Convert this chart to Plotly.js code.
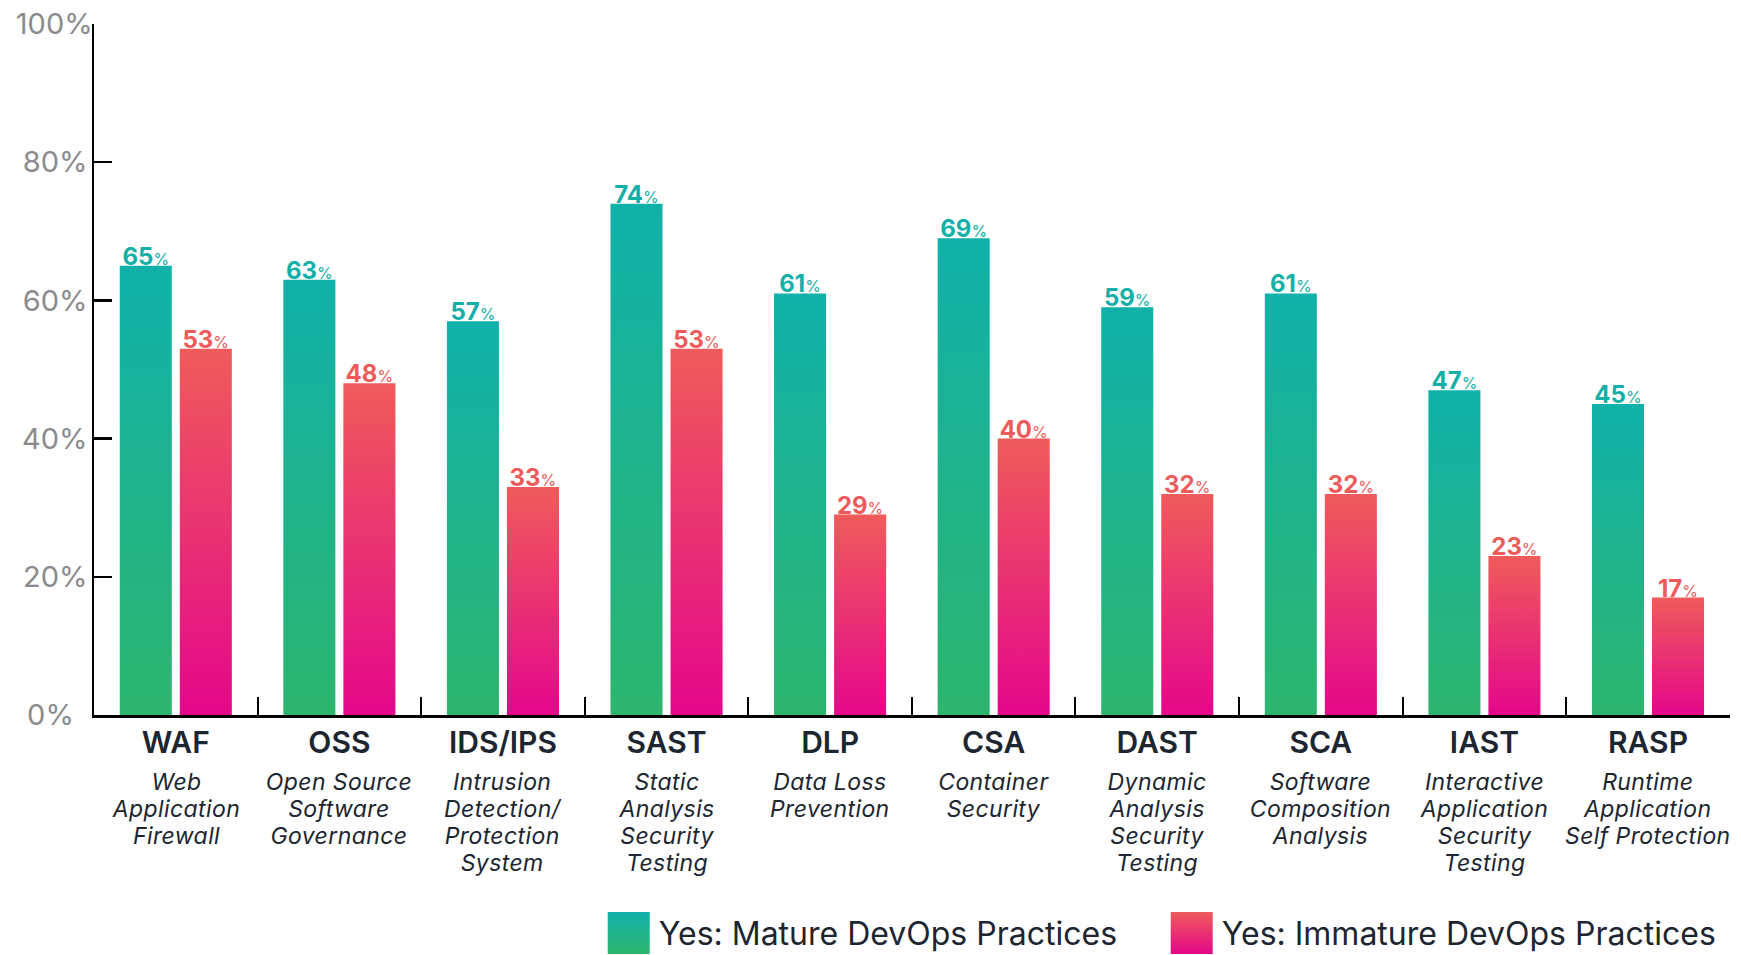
<!DOCTYPE html>
<html>
<head>
<meta charset="utf-8">
<script src="https://cdn.plot.ly/plotly-3.0.1.min.js"></script>
<style>
  html, body { margin: 0; padding: 0; background: #ffffff; }
  #chart { width: 1741px; height: 955px; }
  #chart .annotation-text { letter-spacing: 0.4px; }
</style>
</head>
<body>
<div id="chart"></div>
<script>
// ---- data ----
const categories = ['WAF', 'OSS', 'IDS/IPS', 'SAST', 'DLP', 'CSA', 'DAST', 'SCA', 'IAST', 'RASP'];
const descriptions = [
  'Web<br>Application<br>Firewall',
  'Open Source<br>Software<br>Governance',
  'Intrusion<br>Detection/<br>Protection<br>System',
  'Static<br>Analysis<br>Security<br>Testing',
  'Data Loss<br>Prevention',
  'Container<br>Security',
  'Dynamic<br>Analysis<br>Security<br>Testing',
  'Software<br>Composition<br>Analysis',
  'Interactive<br>Application<br>Security<br>Testing',
  'Runtime<br>Application<br>Self Protection'
];
const matureValues = [65, 63, 57, 74, 61, 69, 59, 61, 47, 45];
const immatureValues = [53, 48, 33, 53, 29, 40, 32, 32, 23, 17];
const seriesNames = ['Yes: Mature DevOps Practices', 'Yes: Immature DevOps Practices'];
const yTickValues = [0, 20, 40, 60, 80, 100];
const yTickLabels = ['0%\u2007', '20%\u2009', '40%\u2009', '60%\u2009', '80%\u2009', '100%'];

// ---- styles ----
const FONT = 'Inter, "Open Sans", sans-serif';
const DARK = '#1c2530';
const TEAL_LABEL = '#13b0a8';
const RED_LABEL = '#ee5a5a';
const gradients = [
  { id: 'gradMature', top: '#10b1aa', bottom: '#2db56e' },
  { id: 'gradImmature', top: '#ef5b5a', bottom: '#e5078b' }
];

function pctLabel(v) {
  return v + '<span style="font-size:16px;font-weight:400">%</span>';
}

const traceMature = {
  type: 'bar',
  name: seriesNames[0],
  x: categories,
  y: matureValues,
  text: matureValues.map(pctLabel),
  marker: { color: '#12b1a6' },
  textposition: 'outside',
  cliponaxis: false,
  textfont: { family: FONT, size: 24, weight: 700, color: TEAL_LABEL },
  hoverinfo: 'skip'
};
const traceImmature = {
  type: 'bar',
  name: seriesNames[1],
  x: categories,
  y: immatureValues,
  text: immatureValues.map(pctLabel),
  marker: { color: '#ea4a6a' },
  textposition: 'outside',
  cliponaxis: false,
  textfont: { family: FONT, size: 24, weight: 700, color: RED_LABEL },
  hoverinfo: 'skip'
};

const annotations = categories.map((c, i) => ({
  x: c,
  xref: 'x',
  y: -0.074,
  yref: 'paper',
  yanchor: 'top',
  xanchor: 'center',
  align: 'center',
  showarrow: false,
  text: descriptions[i],
  font: { family: FONT, size: 23, style: 'italic', color: DARK }
}));

const layout = {
  width: 1741,
  height: 955,
  margin: { l: 94, r: 11, t: 24, b: 240, autoexpand: false },
  paper_bgcolor: '#ffffff',
  plot_bgcolor: '#ffffff',
  barmode: 'group',
  bargap: 0.266,
  bargroupgap: 0.133,
  showlegend: true,
  legend: {
    orientation: 'h',
    x: 0.3085,
    xanchor: 'left',
    y: -0.3157,
    yanchor: 'middle',
    font: { family: FONT, size: 32, color: DARK },
    itemwidth: 50,
    entrywidth: 498,
    entrywidthmode: 'pixels',
    bgcolor: 'rgba(0,0,0,0)',
    itemclick: false,
    itemdoubleclick: false
  },
  xaxis: {
    type: 'category',
    showline: true,
    linecolor: '#000000',
    linewidth: 2.5,
    ticks: 'inside',
    tickson: 'boundaries',
    ticklen: 18,
    tickwidth: 2,
    tickcolor: '#000000',
    ticklabelstandoff: -1,
    tickfont: { family: FONT, size: 30, weight: 600, color: DARK },
    showgrid: false,
    zeroline: false,
    fixedrange: true
  },
  yaxis: {
    range: [0, 100],
    tickvals: yTickValues,
    ticktext: yTickLabels,
    showline: true,
    linecolor: '#000000',
    linewidth: 2.5,
    ticks: 'inside',
    ticklen: 18,
    tickwidth: 2.5,
    tickcolor: '#000000',
    ticklabelstandoff: -7,
    tickfont: { family: FONT, size: 29, color: '#8a8a8c' },
    showgrid: false,
    zeroline: false,
    fixedrange: true
  },
  annotations: annotations
};

const gd = document.getElementById('chart');
Plotly.newPlot(gd, [traceMature, traceImmature], layout, { displayModeBar: false, staticPlot: true })
  .then(applyStyling);

function applyStyling() {
  const ns = 'http://www.w3.org/2000/svg';
  const svg = gd.querySelector('svg.main-svg');
  let defs = svg.querySelector('defs');
  if (!defs) { defs = document.createElementNS(ns, 'defs'); svg.insertBefore(defs, svg.firstChild); }
  gradients.forEach(g => {
    const lg = document.createElementNS(ns, 'linearGradient');
    lg.setAttribute('id', g.id);
    lg.setAttribute('x1', '0'); lg.setAttribute('y1', '0');
    lg.setAttribute('x2', '0'); lg.setAttribute('y2', '1');
    [[0, g.top], [1, g.bottom]].forEach(([o, c]) => {
      const s = document.createElementNS(ns, 'stop');
      s.setAttribute('offset', String(o));
      s.setAttribute('stop-color', c);
      lg.appendChild(s);
    });
    defs.appendChild(lg);
  });
  gd.querySelectorAll('.barlayer .trace').forEach((t, i) => {
    t.querySelectorAll('.point path').forEach(p => { p.style.fill = 'url(#' + gradients[i].id + ')'; });
    // sit the value labels right on top of the bars
    t.querySelectorAll('text.bartext').forEach(tx => {
      const tr = tx.getAttribute('transform') || '';
      tx.setAttribute('transform', 'translate(0,8) ' + tr);
    });
  });
  gd.querySelectorAll('.legend .traces').forEach((t, i) => {
    const p = t.querySelector('.legendpoints path');
    if (p) {
      p.setAttribute('d', 'M21,21H-21V-21H21Z');
      p.style.fill = 'url(#' + gradients[i].id + ')';
      p.style.stroke = 'none';
    }
  });
  // tighter line spacing for the italic descriptions
  gd.querySelectorAll('.annotation-text').forEach(tx => {
    tx.querySelectorAll('tspan.line').forEach(ln => {
      const dy = ln.getAttribute('dy');
      if (dy && dy.indexOf('em') > 0) {
        const n = parseFloat(dy) / 1.3;
        ln.setAttribute('dy', (n * 1.17).toFixed(3) + 'em');
      }
    });
  });
}
</script>
</body>
</html>
